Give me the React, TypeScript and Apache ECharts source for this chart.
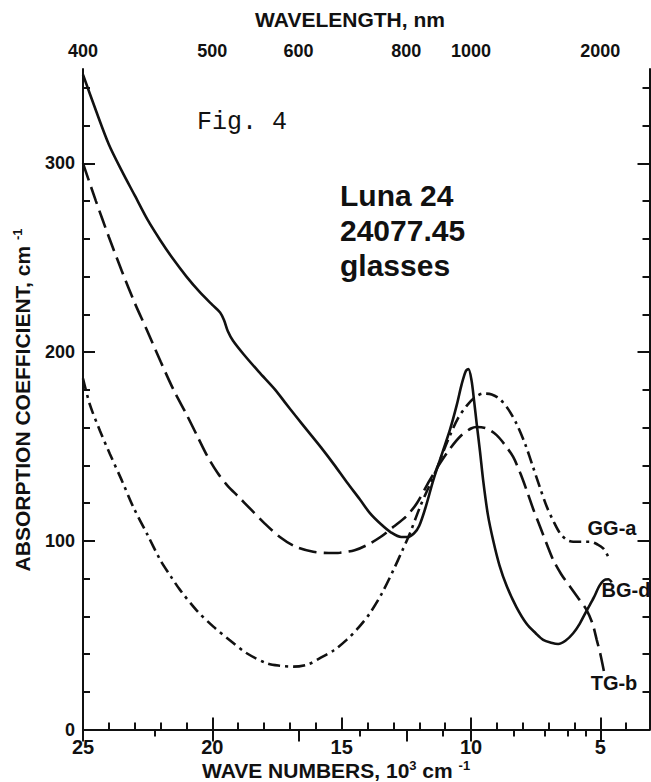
import React, { useEffect, useRef } from "react";
import * as echarts from "echarts";

// ---- tick / label values ----
const WAVENUMBER_LABELS = [25, 20, 15, 10, 5];
const WAVENUMBER_MINOR = [24, 23, 22, 21, 19, 18, 17, 16, 14, 13, 12, 11, 9, 8, 7, 6, 4];
const WAVELENGTH_LABELS = [400, 500, 600, 800, 1000, 2000];
const WAVELENGTH_MINOR = [450, 700, 900, 1200, 1400, 1600, 1800];
const ABS_LABELS = [0, 100, 200, 300];
const ABS_MINOR = [20, 40, 60, 80, 120, 140, 160, 180, 220, 240, 260, 280, 320, 340];

// ---- series: [wave number (10^3 cm-1), absorption coefficient (cm-1)] ----
const BG_D: [number, number][] = [
  [25, 347], [24.5, 328], [24, 310], [23.5, 296], [23, 283], [22.5, 270], [22, 259], [21.5, 249],
  [21, 240], [20.5, 232], [20, 225], [19.7, 221], [19.55, 217], [19.4, 211], [19.2, 206], [18.8, 199],
  [18.2, 189.5], [17.6, 180.5], [17.2, 173.5], [16.8, 166.5], [16.3, 158], [15.8, 149.5], [15.3, 140.5], [14.8, 131],
  [14.3, 122], [13.9, 114.5], [13.5, 109], [13.1, 104.5], [12.7, 102], [12.45, 102], [12.2, 104], [12.0, 108],
  [11.75, 118], [11.46, 132], [11.1, 147], [10.81, 159], [10.55, 172], [10.36, 183], [10.2, 190], [10.1, 191],
  [9.98, 185], [9.88, 174], [9.78, 162], [9.65, 147], [9.53, 132], [9.35, 114], [9.14, 100], [8.9, 87],
  [8.62, 76], [8.25, 65], [7.85, 56], [7.5, 51], [7.21, 47.5], [6.9, 46], [6.63, 45.3], [6.35, 47],
  [6.05, 51], [5.8, 56], [5.53, 63], [5.25, 70], [5.02, 76.5], [4.8, 79.5], [4.69, 79.6], [4.56, 78],
];

const TG_B: [number, number][] = [
  [25, 300], [24.5, 280], [24, 261], [23.5, 243], [23, 226], [22.54, 212], [22, 195], [21.5, 180],
  [21.0, 167], [20.6, 156], [20.2, 145], [19.8, 136], [19.4, 129], [19, 123.5], [18.5, 116.5], [18, 109.5],
  [17.39, 102], [16.8, 97], [16.1, 94.2], [15.5, 93.5], [15.07, 93.7], [14.5, 95], [14.03, 97.7], [13.5, 102],
  [13, 107.4], [12.5, 113], [12.1, 119.8], [11.6, 132], [11.2, 141], [10.8, 149], [10.4, 155.5], [10.0, 159.5],
  [9.78, 160.3], [9.4, 159.5], [9.01, 156], [8.7, 151], [8.37, 144.4], [8.1, 136], [7.85, 126.8], [7.6, 117],
  [7.33, 107.4], [7.05, 97.5], [6.82, 89.8], [6.5, 82], [6.17, 75.7], [5.85, 69.5], [5.53, 63.3], [5.3, 56],
  [5.14, 47.5], [5.0, 40], [4.82, 28],
];

const GG_A: [number, number][] = [
  [25, 186], [24.73, 172], [24.35, 158.5], [23.96, 146], [23.5, 132], [23.06, 118], [22.5, 103], [22.02, 90],
  [21.6, 81], [21.25, 74], [20.6, 63], [19.96, 54.5], [19.3, 47], [18.67, 40.4], [17.9, 35.1], [17.4, 33.8],
  [16.87, 33.3], [16.3, 34.5], [15.84, 37.8], [15.3, 42], [14.81, 47.5], [14.35, 54], [13.91, 61.6], [13.45, 72],
  [13.0, 84.5], [12.65, 95], [12.36, 104], [11.97, 118], [11.65, 128], [11.33, 138], [11.05, 148], [10.81, 156],
  [10.5, 165], [10.17, 171.5], [9.85, 176], [9.53, 178], [9.2, 177.5], [8.88, 175], [8.55, 169.5], [8.24, 162],
  [7.9, 151], [7.6, 139], [7.33, 128], [7.07, 118], [6.8, 110], [6.56, 104], [6.3, 100.5], [6.05, 99.5],
  [5.7, 99.5], [5.4, 99.5], [5.1, 98], [4.89, 96], [4.75, 93], [4.63, 89.8],
];

const INK = "#111111";
const SANS = '"Liberation Sans", Arial, sans-serif';
const X_MIN = 3.1;
const X_MAX = 25;

export default function App() {
  const ref = useRef<HTMLDivElement>(null);

  useEffect(() => {
    if (!ref.current) return;
    const chart = echarts.init(ref.current, undefined, { renderer: "svg" });

    const baseX = {
      type: "value" as const,
      min: X_MIN,
      max: X_MAX,
      inverse: true,
      splitLine: { show: false },
    };
    const baseY = {
      type: "value" as const,
      min: 0,
      max: 350,
      splitLine: { show: false },
    };
    const lineW = 2;

    chart.setOption({
      animation: false,
      backgroundColor: "#ffffff",
      grid: { left: 83, top: 69, right: 1.5, bottom: 52.5, containLabel: false },
      xAxis: [
        {
          ...baseX,
          position: "bottom",
          axisLine: { show: true, lineStyle: { color: INK, width: lineW } },
          axisTick: { show: true, inside: true, length: 12, customValues: WAVENUMBER_LABELS, lineStyle: { color: INK, width: lineW } },
          axisLabel: {
            show: true, customValues: WAVENUMBER_LABELS, margin: 7,
            color: INK, fontFamily: SANS, fontWeight: "bold", fontSize: 20,
            formatter: (v: number) => String(v),
          },
        },
        {
          ...baseX,
          position: "bottom",
          axisLine: { show: false },
          axisTick: { show: true, inside: true, length: 7, customValues: WAVENUMBER_MINOR, lineStyle: { color: INK, width: lineW } },
          axisLabel: { show: false },
        },
        {
          ...baseX,
          position: "top",
          axisLine: { show: true, lineStyle: { color: INK, width: lineW } },
          axisTick: { show: true, inside: true, length: 12, customValues: WAVELENGTH_LABELS.map((l) => 1e4 / l), lineStyle: { color: INK, width: lineW } },
          axisLabel: {
            show: true, customValues: WAVELENGTH_LABELS.map((l) => 1e4 / l), margin: 9,
            color: INK, fontFamily: SANS, fontWeight: "bold", fontSize: 18,
            formatter: (v: number) => String(Math.round(1e4 / v)),
          },
        },
        {
          ...baseX,
          position: "top",
          axisLine: { show: false },
          axisTick: { show: true, inside: true, length: 7, customValues: WAVELENGTH_MINOR.map((l) => 1e4 / l), lineStyle: { color: INK, width: lineW } },
          axisLabel: { show: false },
        },
      ],
      yAxis: [
        {
          ...baseY,
          position: "left",
          axisLine: { show: true, lineStyle: { color: INK, width: lineW } },
          axisTick: { show: true, inside: true, length: 12, customValues: ABS_LABELS.slice(1), lineStyle: { color: INK, width: lineW } },
          axisLabel: {
            show: true, customValues: ABS_LABELS, margin: 8,
            color: INK, fontFamily: SANS, fontWeight: "bold", fontSize: 18,
          },
        },
        {
          ...baseY,
          position: "left",
          axisLine: { show: false },
          axisTick: { show: true, inside: true, length: 7, customValues: ABS_MINOR, lineStyle: { color: INK, width: lineW } },
          axisLabel: { show: false },
        },
        {
          ...baseY,
          position: "right",
          axisLine: { show: true, lineStyle: { color: INK, width: lineW } },
          axisTick: { show: true, inside: true, length: 12, customValues: ABS_LABELS.slice(1), lineStyle: { color: INK, width: lineW } },
          axisLabel: { show: false },
        },
        {
          ...baseY,
          position: "right",
          axisLine: { show: false },
          axisTick: { show: true, inside: true, length: 7, customValues: ABS_MINOR, lineStyle: { color: INK, width: lineW } },
          axisLabel: { show: false },
        },
      ],
      series: [
        {
          name: "BG-d", type: "line", data: BG_D, xAxisIndex: 0, yAxisIndex: 0,
          showSymbol: false, symbol: "none", smooth: 0.3,
          lineStyle: { color: INK, width: 2.6, type: "solid" },
        },
        {
          name: "TG-b", type: "line", data: TG_B, xAxisIndex: 0, yAxisIndex: 0,
          showSymbol: false, symbol: "none", smooth: 0.3,
          lineStyle: { color: INK, width: 2.6, type: [18, 7] },
        },
        {
          name: "GG-a", type: "line", data: GG_A, xAxisIndex: 0, yAxisIndex: 0,
          showSymbol: false, symbol: "none", smooth: 0.3,
          lineStyle: { color: INK, width: 2.6, type: [12, 5, 3, 5] },
        },
      ],
      graphic: [
        {
          type: "text", x: 350, y: 19,
          style: { text: "WAVELENGTH, nm", fill: INK, fontFamily: SANS, fontWeight: "bold", fontSize: 21, align: "center", verticalAlign: "middle" },
        },
        {
          type: "text", x: 202, y: 770,
          style: {
            text: "WAVE NUMBERS, 10{sup|3} cm {sup|-1}", fill: INK, fontFamily: SANS, fontWeight: "bold", fontSize: 21,
            align: "left", verticalAlign: "middle",
            rich: { sup: { fontSize: 13, fontWeight: "bold", fontFamily: SANS, fill: INK, padding: [0, 0, 9, 0] } },
          },
        },
        {
          type: "text", x: 22, y: 400, rotation: Math.PI / 2,
          style: {
            text: "ABSORPTION COEFFICIENT, cm {sup|-1}", fill: INK, fontFamily: SANS, fontWeight: "bold", fontSize: 21,
            align: "center", verticalAlign: "middle",
            rich: { sup: { fontSize: 13, fontWeight: "bold", fontFamily: SANS, fill: INK, padding: [0, 0, 9, 0] } },
          },
        },
        {
          type: "text", x: 197, y: 122,
          style: { text: "Fig. 4", fill: INK, fontFamily: '"Liberation Mono", monospace', fontSize: 25, align: "left", verticalAlign: "middle" },
        },
        {
          type: "text", x: 340, y: 178,
          style: { text: "Luna 24\n24077.45\nglasses", fill: INK, fontFamily: SANS, fontWeight: "bold", fontSize: 30, lineHeight: 35, align: "left", verticalAlign: "top" },
        },
        {
          type: "text", x: 612, y: 528,
          style: { text: "GG-a", fill: INK, fontFamily: SANS, fontWeight: "bold", fontSize: 20, align: "center", verticalAlign: "middle" },
        },
        {
          type: "text", x: 626, y: 590,
          style: { text: "BG-d", fill: INK, fontFamily: SANS, fontWeight: "bold", fontSize: 20, align: "center", verticalAlign: "middle" },
        },
        {
          type: "text", x: 614, y: 683,
          style: { text: "TG-b", fill: INK, fontFamily: SANS, fontWeight: "bold", fontSize: 20, align: "center", verticalAlign: "middle" },
        },
      ],
    });

    return () => chart.dispose();
  }, []);

  return (
    <div
      ref={ref}
      style={{ position: "fixed", left: 0, top: 0, width: 651, height: 782, background: "#fff" }}
    />
  );
}
